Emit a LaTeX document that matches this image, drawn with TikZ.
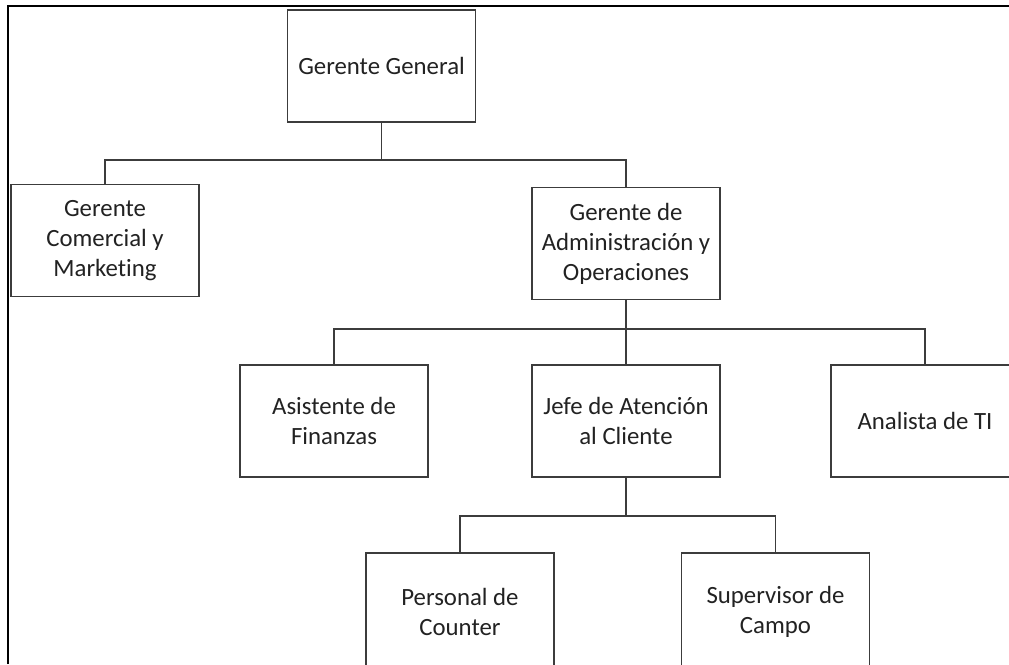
\documentclass[tikz,border=0pt]{standalone}
\usepackage{fontspec}
\setmainfont{Carlito}[Ligatures=NoCommon]
\begin{document}
\begin{tikzpicture}[x=1pt,y=-1pt,
  role/.style={draw=boxline, line width=1.4pt, fill=white, rectangle,
    minimum width=188pt, minimum height=112pt, inner sep=2pt,
    align=center, text=txt, font=\fontsize{24.8}{30}\selectfont},
  link/.style={draw=boxline, line width=1.4pt},
  frame/.style={draw=black, line width=2.8pt}]
\definecolor{boxline}{HTML}{3C3C3C}
\definecolor{txt}{HTML}{222222}
\useasboundingbox (0,0) rectangle (1009,664);
\clip (0,0) rectangle (1009,664);

% outer frame (top and left edges)
\draw[frame] (8,664) -- (8,6) -- (1012,6);

% positions
\node[role] (gg) at (381.5,66)  {Gerente General};
\node[role] (gc) at (105,240.5) {Gerente\\Comercial y\\Marketing};
\node[role] (ga) at (626,243.5) {Gerente de\\Administración y\\Operaciones};
\node[role] (af) at (334,421)   {Asistente de\\Finanzas};
\node[role] (jc) at (626,421)   {Jefe de Atención\\al Cliente};
\node[role] (ti) at (925,421)   {Analista de TI};
\node[role, minimum height=118pt] (pc) at (460,612)   {Personal de\\Counter};
\node[role, minimum height=118pt] (sc) at (775.5,612) {Supervisor de\\Campo};

% junction points of the branch lines
\coordinate (j1) at (381.5,160);
\coordinate (j2) at (626,329);
\coordinate (j3) at (626,516);

% connectors
\draw[link] (gg.south) -- (j1);
\draw[link] (gc.north) |- (j1) -| (ga.north);

\draw[link] (ga.south) -- (jc.north);
\draw[link] (af.north) |- (j2) -| (ti.north);

\draw[link] (jc.south) -- (j3);
\draw[link] (pc.north) |- (j3) -| (sc.north);
\end{tikzpicture}
\end{document}
